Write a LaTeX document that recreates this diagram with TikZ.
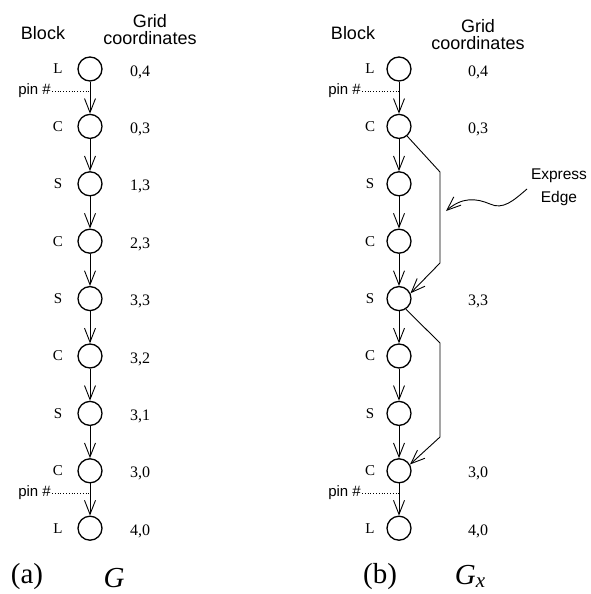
\documentclass[tikz,border=0pt]{standalone}
\usepackage{fontspec}
\setmainfont{Liberation Serif}
\setsansfont{Liberation Sans}
\usetikzlibrary{arrows.meta}
\begin{document}
\begin{tikzpicture}[x=1pt,y=-1pt,
  blk/.style={circle,draw,line width=1.3pt,minimum size=24pt,inner sep=0pt},
  lab/.style={font=\fontsize{15}{15}\selectfont},
  crd/.style={font=\fontsize{16}{16}\selectfont},
  hdr/.style={font=\sffamily\fontsize{18}{17}\selectfont,align=center,inner sep=1pt},
  arr/.style={line width=0.9pt,-{Straight Barb[length=14pt,width=11pt,line width=0.9pt]}},
  pinlab/.style={font=\sffamily\fontsize{15}{15}\selectfont,anchor=east,inner sep=1pt},
  pinline/.style={dotted,line width=0.8pt},
  captxt/.style={font=\fontsize{29}{29}\selectfont,inner sep=1pt}]
\useasboundingbox (0,0) rectangle (591,594);
% headers
\node[hdr] (hb1) at (43,33) {Block};
\node[hdr] (hg1) at (150,30) {Grid\\coordinates};
\node[hdr] (hb2) at (353,33) {Block};
\node[hdr] (hg2) at (478,35) {Grid\\coordinates};
% left column
\foreach \i/\l/\c in {0/L/{0,4},1/C/{0,3},2/S/{1,3},3/C/{2,3},4/S/{3,3},5/C/{3,2},6/S/{3,1},7/C/{3,0},8/L/{4,0}}{
  \node[blk] (a\i) at (90,69+57.4*\i) {};
  \node[lab] (al\i) at (58,69+57.4*\i) {\l};
  \node[crd] (ac\i) at (140,72+57.4*\i) {\c};
}
\foreach \i [evaluate=\i as \j using int(\i+1)] in {0,...,7}
  \draw[arr] (a\i) -- (a\j);
% right column
\foreach \i/\l in {0/L,1/C,2/S,3/C,4/S,5/C,6/S,7/C,8/L}{
  \node[blk] (b\i) at (399,69+57.4*\i) {};
  \node[lab] (bl\i) at (370,69+57.4*\i) {\l};
}
\foreach \i/\c in {0/{0,4},1/{0,3},4/{3,3},7/{3,0},8/{4,0}}
  \node[crd] (bc\i) at (478,72+57.4*\i) {\c};
\foreach \i [evaluate=\i as \j using int(\i+1)] in {0,...,7}
  \draw[arr] (b\i) -- (b\j);
% express edges
\coordinate (e1) at (440,172);
\coordinate (e2) at (440,263);
\coordinate (e3) at (440,343);
\coordinate (e4) at (440,437);
\draw[arr] (b1.-50) -- (e1) -- (e2) -- (b4.25);
\draw[arr] (b4.-57) -- (e3) -- (e4) -- (b7.30);
% pin labels
\node[pinlab] (p1) at (52,91) {pin \#};
\coordinate (p1e) at (90,91);
\draw[pinline] (p1.east) -- (p1e);
\node[pinlab] (p2) at (52,493) {pin \#};
\coordinate (p2e) at (90,493);
\draw[pinline] (p2.east) -- (p2e);
\node[pinlab] (p3) at (362,91) {pin \#};
\coordinate (p3e) at (399,91);
\draw[pinline] (p3.east) -- (p3e);
\node[pinlab] (p4) at (362,493) {pin \#};
\coordinate (p4e) at (399,493);
\draw[pinline] (p4.east) -- (p4e);
% express edge label
\node[font=\sffamily\fontsize{15.5}{23}\selectfont,align=center] (ex) at (559,187) {Express\\Edge};
\coordinate (w0) at (527,189);
\coordinate (w1) at (490,204);
\coordinate (w2) at (446,211);
\draw[arr] (w0) .. controls (513,201) and (503,210) .. (w1) .. controls (476,198) and (462,197) .. (w2);
% captions
\node[captxt] (ca) at (27,577) {(a)};
\node[captxt] (cg) at (114,578) {\textit{G}};
\node[captxt] (cb) at (380,577) {(b)};
\node[captxt,anchor=base] (cgx) at (470,584) {\textit{G}\raisebox{-3pt}{\fontsize{21}{21}\selectfont\textit{x}}};
\end{tikzpicture}
\end{document}
